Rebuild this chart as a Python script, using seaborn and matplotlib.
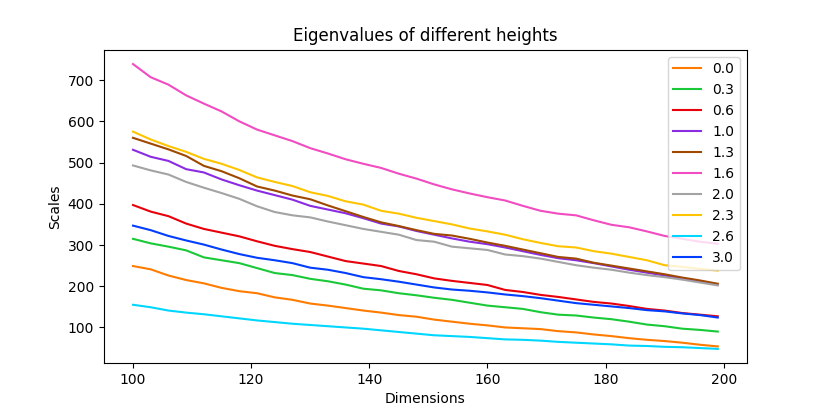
import numpy as np
import pandas as pd
import matplotlib
matplotlib.use("Agg")
import matplotlib.pyplot as plt
import seaborn as sns

dims = list(range(100, 200, 3))

heights = ["0.0", "0.3", "0.6", "1.0", "1.3", "1.6", "2.0", "2.3", "2.6", "3.0"]

h_00 = [249, 241, 226, 215, 207, 196, 188, 183, 173, 167, 158, 153, 147, 141, 136, 130, 126,
        119, 114, 109, 105, 100, 98, 96, 91, 88, 83, 79, 74, 70, 67, 63, 58, 54]
h_03 = [315, 304, 296, 287, 270, 263, 256, 244, 232, 227, 218, 212, 204, 194, 190, 183, 178,
        172, 167, 160, 153, 149, 145, 137, 131, 129, 124, 120, 114, 107, 103, 97, 94, 90]
h_06 = [397, 381, 370, 352, 339, 330, 321, 309, 298, 290, 283, 272, 261, 255, 249, 237, 229,
        219, 213, 208, 203, 191, 186, 179, 174, 168, 162, 158, 152, 145, 141, 135, 131, 127]
h_10 = [531, 514, 504, 484, 476, 459, 445, 432, 421, 410, 395, 386, 377, 365, 352, 345, 334,
        325, 316, 308, 302, 294, 285, 276, 268, 263, 256, 248, 240, 233, 226, 219, 212, 204]
h_13 = [560, 546, 532, 516, 492, 479, 462, 442, 432, 420, 411, 396, 382, 368, 355, 346, 336,
        327, 323, 315, 306, 298, 289, 280, 271, 267, 257, 250, 243, 236, 229, 221, 214, 206]
h_16 = [739, 707, 689, 663, 643, 624, 600, 580, 566, 552, 535, 522, 508, 497, 487, 473, 461,
        447, 435, 425, 416, 408, 395, 383, 376, 372, 360, 349, 343, 333, 322, 315, 308, 303]
h_20 = [493, 481, 471, 453, 439, 426, 412, 394, 380, 372, 367, 357, 348, 339, 332, 325, 312,
        308, 296, 292, 288, 277, 273, 267, 259, 251, 245, 240, 233, 227, 222, 216, 209, 202]
h_23 = [575, 556, 540, 526, 509, 497, 482, 464, 453, 443, 428, 419, 406, 398, 383, 376, 366,
        358, 350, 340, 333, 325, 314, 305, 297, 294, 285, 279, 271, 263, 251, 247, 242, 238]
h_26 = [155, 149, 141, 136, 132, 127, 122, 117, 113, 109, 106, 103, 100, 97, 93, 89, 85,
        81, 79, 77, 74, 71, 70, 68, 65, 63, 61, 59, 56, 55, 53, 52, 50, 48]
h_30 = [347, 336, 322, 311, 301, 289, 278, 269, 263, 256, 245, 240, 232, 222, 217, 211, 204,
        197, 192, 189, 185, 180, 176, 171, 165, 159, 155, 151, 147, 142, 139, 134, 130, 124]

series = [h_00, h_03, h_06, h_10, h_13, h_16, h_20, h_23, h_26, h_30]

# long-form table for seaborn
frames = []
for h, vals in zip(heights, series):
    frames.append(pd.DataFrame({"Dimensions": dims, "Scales": vals, "height": h}))
df = pd.concat(frames, ignore_index=True)

bright = sns.color_palette("bright", 10)
colors = bright[1:] + bright[:1]
palette = dict(zip(heights, colors))

fig, ax = plt.subplots(figsize=(8.3, 4.15), dpi=100)
fig.subplots_adjust(left=0.125, right=0.9, top=0.88, bottom=0.125)

sns.lineplot(data=df, x="Dimensions", y="Scales", hue="height", hue_order=heights,
             palette=palette, linewidth=1.5, ax=ax)

handles, labels = ax.get_legend_handles_labels()
ax.legend(handles, labels, loc="upper right")

ax.set_title("Eigenvalues of different heights")
ax.set_xlabel("Dimensions")
ax.set_ylabel("Scales")
ax.set_xticks([100, 120, 140, 160, 180, 200])
ax.set_yticks([100, 200, 300, 400, 500, 600, 700])

fig.savefig("out.png", dpi=100)
